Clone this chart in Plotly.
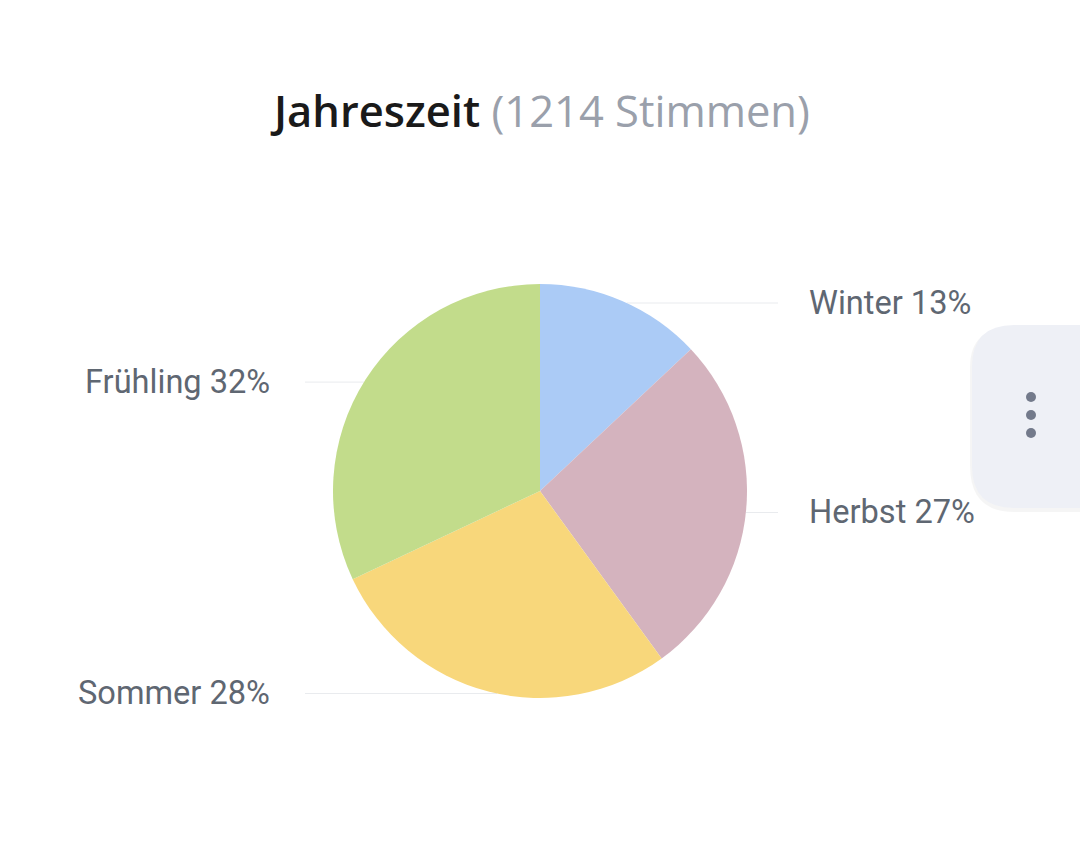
import math
import plotly.graph_objects as go

# ---- data ----
categories = ["Winter", "Herbst", "Sommer", "Frühling"]
percentages = [13, 27, 28, 32]
colors = ["#abcbf6", "#d4b3be", "#f8d77b", "#c2dc8b"]
title_main = "Jahreszeit"
title_sub = "(1214 Stimmen)"

W, H = 1080, 841
cx, cy, R = 540, 491, 207  # pixel layout of the pie

fig = go.Figure()
fig.add_trace(go.Pie(
    labels=categories,
    values=percentages,
    marker=dict(colors=colors, line=dict(width=0)),
    sort=False,
    direction="clockwise",
    rotation=0,
    textinfo="none",
    hoverinfo="label+percent",
    domain=dict(x=[(cx - R) / W, (cx + R) / W], y=[(H - cy - R) / H, (H - cy + R) / H]),
    showlegend=False,
))

def px(x):
    return x / W

def py(y):
    return 1 - y / H

shapes = []
annotations = []
total = sum(percentages)
cum = 0
for cat, val in zip(categories, percentages):
    start = cum / total * 360
    cum += val
    end = cum / total * 360
    mid = math.radians((start + end) / 2)
    ly = cy - R * math.cos(mid) + 2
    right = math.sin(mid) >= 0
    dy = abs(ly - cy)
    dx_edge = math.sqrt(max(R * R - dy * dy, 0))
    if right:
        x0, x1 = cx + dx_edge, cx + 238
        tx, anchor = cx + 267, "left"
    else:
        x0, x1 = cx - dx_edge, cx - 235
        tx, anchor = cx - 268, "right"
    shapes.append(dict(type="line", xref="paper", yref="paper",
                       x0=px(x0), x1=px(x1), y0=py(ly), y1=py(ly),
                       line=dict(color="#e9ebee", width=1), layer="below"))
    annotations.append(dict(xref="paper", yref="paper", x=px(tx), y=py(ly),
                            xanchor=anchor, yanchor="middle", showarrow=False,
                            text=f"{cat} {val}%",
                            font=dict(family="Roboto", size=32.6, color="#5f6772")))

# title
annotations.append(dict(xref="paper", yref="paper", x=0.5, y=py(111),
                        xanchor="center", yanchor="middle", showarrow=False,
                        text=f"{title_main} <span style='font-weight:400;color:#9aa0ab'>{title_sub}</span>",
                        font=dict(family="Open Sans", size=43.5, color="#1a1a1a", weight=600)))

# menu button (rounded rectangle, partially off-screen)
bx0, bx1, by0, by1, r = 972, 1120, 325, 508, 42
path = (f"M {bx0 + r},{by0} L {bx1},{by0} L {bx1},{by1} L {bx0 + r},{by1} "
        f"Q {bx0},{by1} {bx0},{by1 - r} L {bx0},{by0 + r} Q {bx0},{by0} {bx0 + r},{by0} Z")
shadow = (f"M {bx0 + r},{by0 + 2} L {bx1},{by0 + 2} L {bx1},{by1 + 4} L {bx0 + r},{by1 + 4} "
          f"Q {bx0 - 2},{by1 + 4} {bx0 - 2},{by1 - r} L {bx0 - 2},{by0 + r} Q {bx0 - 2},{by0 + 2} {bx0 + r},{by0 + 2} Z")


def to_paper_path(p):
    out = []
    for tok in p.split():
        if "," in tok:
            a, b = tok.split(",")
            out.append(f"{px(float(a))},{py(float(b))}")
        else:
            out.append(tok)
    return " ".join(out)


shapes.append(dict(type="path", xref="paper", yref="paper", path=to_paper_path(shadow),
                   fillcolor="rgba(0,0,0,0.04)", line=dict(width=0)))
shapes.append(dict(type="path", xref="paper", yref="paper", path=to_paper_path(path),
                   fillcolor="#eef0f6", line=dict(width=0)))
for dyv in (397, 415, 433):
    shapes.append(dict(type="circle", xref="paper", yref="paper",
                       x0=px(1031 - 5), x1=px(1031 + 5), y0=py(dyv - 5), y1=py(dyv + 5),
                       fillcolor="#737a8b", line=dict(width=0)))

fig.update_layout(
    width=W, height=H,
    margin=dict(l=0, r=0, t=0, b=0),
    paper_bgcolor="white",
    plot_bgcolor="white",
    shapes=shapes,
    annotations=annotations,
)

fig.write_html("out.html")
